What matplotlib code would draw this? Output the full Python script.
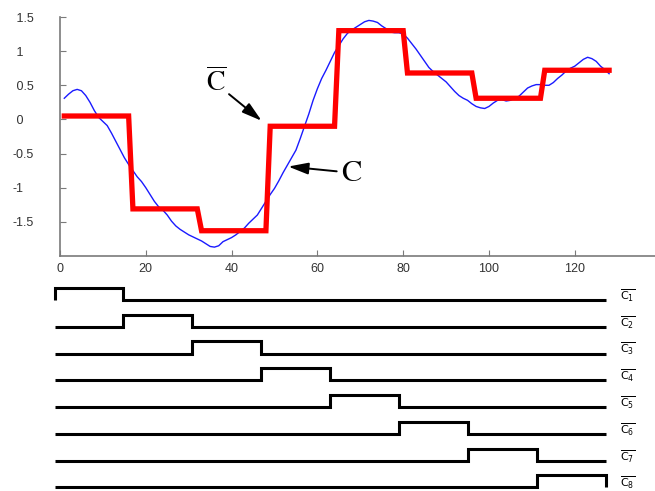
"""
Time series C with its PAA approximation C-bar (top) and the
eight segment basis pulses C-bar_1 .. C-bar_8 (bottom).
"""

import matplotlib

matplotlib.use("Agg")
import matplotlib.pyplot as plt  # noqa: E402
import numpy as np  # noqa: E402

plt.rcParams["font.family"] = ["Liberation Sans", "DejaVu Sans"]
plt.rcParams["mathtext.fontset"] = "stix"

# raw series C, sampled at t = 1..128
series_c = [
    0.31, 0.37, 0.42, 0.44, 0.42, 0.35, 0.25, 0.13, 0.03, -0.03,
    -0.09, -0.20, -0.32, -0.44, -0.56, -0.66, -0.75, -0.84, -0.91, -1.00,
    -1.10, -1.20, -1.28, -1.33, -1.40, -1.49, -1.56, -1.61, -1.65, -1.69,
    -1.72, -1.75, -1.78, -1.82, -1.86, -1.87, -1.85, -1.79, -1.76, -1.73,
    -1.69, -1.64, -1.59, -1.52, -1.46, -1.40, -1.30, -1.20, -1.10, -1.01,
    -0.90, -0.78, -0.67, -0.56, -0.45, -0.28, -0.10, 0.08, 0.28, 0.45,
    0.60, 0.72, 0.85, 0.98, 1.08, 1.18, 1.26, 1.31, 1.35, 1.39,
    1.43, 1.45, 1.44, 1.42, 1.37, 1.33, 1.28, 1.27, 1.27, 1.25,
    1.19, 1.11, 1.03, 0.94, 0.85, 0.76, 0.70, 0.65, 0.60, 0.55,
    0.48, 0.41, 0.35, 0.31, 0.28, 0.23, 0.19, 0.17, 0.16, 0.19,
    0.24, 0.28, 0.29, 0.27, 0.28, 0.31, 0.34, 0.40, 0.46, 0.49,
    0.51, 0.51, 0.50, 0.50, 0.54, 0.60, 0.65, 0.71, 0.75, 0.78,
    0.83, 0.88, 0.91, 0.89, 0.85, 0.78, 0.73, 0.67,
]
# segment means (C-bar), 8 segments of 16 samples
paa_means = [0.05, -1.31, -1.63, -0.10, 1.30, 0.68, 0.31, 0.72]
seg_len = 16
xticks = [0, 20, 40, 60, 80, 100, 120]
yticks = [1.5, 1, 0.5, 0, -0.5, -1, -1.5]
ytick_labels = [" 1.5", " 1", " 0.5", " 0", "-0.5", "-1", "-1.5"]

W, H = 655, 491
fig = plt.figure(figsize=(W / 100, H / 100), dpi=100)

# ---- top panel -------------------------------------------------------------
ax = fig.add_axes([60 / W, 1 - 256 / H, 595 / W, 239 / H])
t = np.arange(1, len(series_c) + 1)
ax.plot(t, series_c, color="#1a1aff", lw=1.0)
ax.plot(t, np.repeat(paa_means, seg_len), color="#ff0000", lw=3.8,
        solid_joinstyle="miter")

ax.set_xlim(0, 138.7)
ax.set_ylim(-2, 1.5)
for s in ("top", "right"):
    ax.spines[s].set_visible(False)
for s in ("left", "bottom"):
    ax.spines[s].set_color("#7a7a7a")
    ax.spines[s].set_linewidth(1.2)
ax.set_xticks(xticks)
ax.set_yticks(yticks)
ax.set_yticklabels(ytick_labels, ha="left")
ax.tick_params(axis="both", direction="in", colors="#7a7a7a", labelcolor="#333333",
               labelsize=9, length=4)
ax.tick_params(axis="x", pad=5)
ax.tick_params(axis="y", pad=34)

arrow = dict(arrowstyle="-|>,head_length=0.55,head_width=0.16", color="black",
             lw=1.4, mutation_scale=22, shrinkA=0, shrinkB=0)
ax.text(36.4, 0.41, r"$\overline{\mathrm{C}}$", fontsize=20, ha="center", va="baseline")
ax.annotate("", xy=(47.0, -0.02), xytext=(39.4, 0.37), arrowprops=arrow)
ax.text(67.9, -0.90, "C", fontsize=22, family="STIXGeneral", ha="center", va="baseline")
ax.annotate("", xy=(53.2, -0.69), xytext=(64.5, -0.76), arrowprops=arrow)

# ---- bottom panel: segment indicator pulses --------------------------------
bx = fig.add_axes([0, 0, 1, 221 / H])
bx.set_xlim(-12.65, 139.3)
bx.set_ylim(-7.135, 1.12)
bx.axis("off")
pulse_h = 0.45
n_total = seg_len * len(paa_means)
for k in range(len(paa_means)):
    a, b = seg_len * k, seg_len * (k + 1)
    xs = [0, a, a, b, b, n_total]
    ys = np.array([0, 0, pulse_h, pulse_h, 0, 0]) - k
    bx.plot(xs, ys, color="black", lw=2.2, solid_joinstyle="miter",
            solid_capstyle="butt")
    bx.text(131.2, -k + 0.16, r"$\overline{\mathrm{C}_{%d}}$" % (k + 1), fontsize=8,
            math_fontfamily="dejavusans", ha="left", va="center")

fig.savefig("out.png", dpi=100)
